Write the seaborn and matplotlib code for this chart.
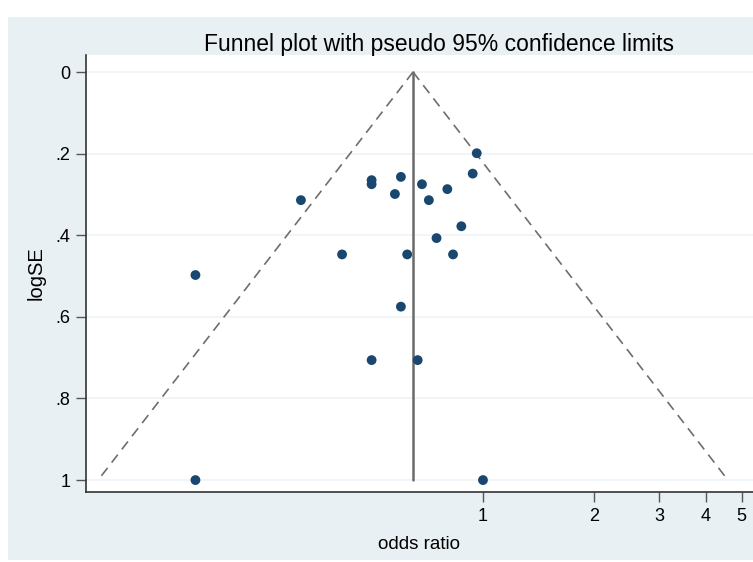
import numpy as np
import pandas as pd
import matplotlib
matplotlib.use("Agg")
import matplotlib.pyplot as plt
from matplotlib.patches import Rectangle
import seaborn as sns

# study estimates
odds_ratio = [0.962, 0.938, 0.500, 0.500, 0.600, 0.684, 0.801, 0.578, 0.714, 0.322,
              0.874, 0.749, 0.416, 0.624, 0.830, 0.600, 0.500, 0.666, 0.167, 0.167, 1.000]
log_se = [0.199, 0.249, 0.265, 0.275, 0.257, 0.275, 0.287, 0.299, 0.314, 0.314,
          0.378, 0.407, 0.447, 0.447, 0.447, 0.575, 0.706, 0.706, 0.4975, 1.0, 1.0]
pooled_or = 0.647
se_max = 0.99

x_ticks = [1, 2, 3, 4, 5]
y_ticks = [0, 0.2, 0.4, 0.6, 0.8, 1]
y_labels = ["0", ".2", ".4", ".6", ".8", "1"]

df = pd.DataFrame({"odds ratio": odds_ratio, "logSE": log_se})

sns.set_style("white")
plt.rcParams["font.family"] = ["Liberation Sans", "DejaVu Sans"]
plt.rcParams["text.color"] = "black"
plt.rcParams["axes.labelcolor"] = "black"

fig = plt.figure(figsize=(7.53, 5.62), dpi=100)
fig.patch.set_facecolor("white")
bg = Rectangle((8 / 753, 2 / 562), 1.0, 543 / 562, transform=fig.transFigure,
               facecolor="#e9f0f3", edgecolor="none", zorder=-5)
fig.patches.append(bg)

ax = fig.add_axes([86 / 753, 1 - 491.5 / 562, 1 - 86 / 753, (491.5 - 55) / 562])
ax.set_facecolor("white")

# pseudo 95% confidence limits
se_line = np.array([0.0, se_max])
ax.plot(pooled_or * np.exp(-1.96 * se_line), se_line, ls=(0, (6, 4)), color="#6e6e6e", lw=1.2)
ax.plot(pooled_or * np.exp(1.96 * se_line), se_line, ls=(0, (6, 4)), color="#6e6e6e", lw=1.2)
ax.plot([pooled_or, pooled_or], [0, 1.0], color="#6a6a6a", lw=1.8)

sns.scatterplot(data=df, x="odds ratio", y="logSE", ax=ax, color="#1a476f",
                s=50, edgecolor="none", zorder=5)

ax.set_xscale("log")
ax.set_xlim(0.0845, 5.37)
ax.set_ylim(1.028, -0.0417)
ax.set_xticks(x_ticks)
ax.set_xticklabels([str(t) for t in x_ticks])
ax.minorticks_off()
ax.set_yticks(y_ticks)
ax.set_yticklabels(y_labels)

for y in y_ticks:
    ax.axhline(y, color="#f0f4f6", lw=1.2, zorder=0)

for side in ["top", "right"]:
    ax.spines[side].set_visible(False)
for side in ["left", "bottom"]:
    ax.spines[side].set_color("#333333")
    ax.spines[side].set_linewidth(1.2)

ax.tick_params(axis="both", direction="out", length=7, width=1, color="#555555",
               labelsize=13, pad=4, labelcolor="black")
ax.tick_params(axis="x", pad=5)
ax.yaxis.set_ticks_position("left")
ax.xaxis.set_ticks_position("bottom")

ax.set_xlabel("odds ratio", fontsize=13.5, labelpad=8)
ax.set_ylabel("logSE", fontsize=14.5, labelpad=7)

fig.text(439 / 753, 1 - 45 / 562, "Funnel plot with pseudo 95% confidence limits",
         ha="center", va="center", fontsize=16.5, color="black")

fig.savefig("out.png", dpi=100)
plt.close(fig)
